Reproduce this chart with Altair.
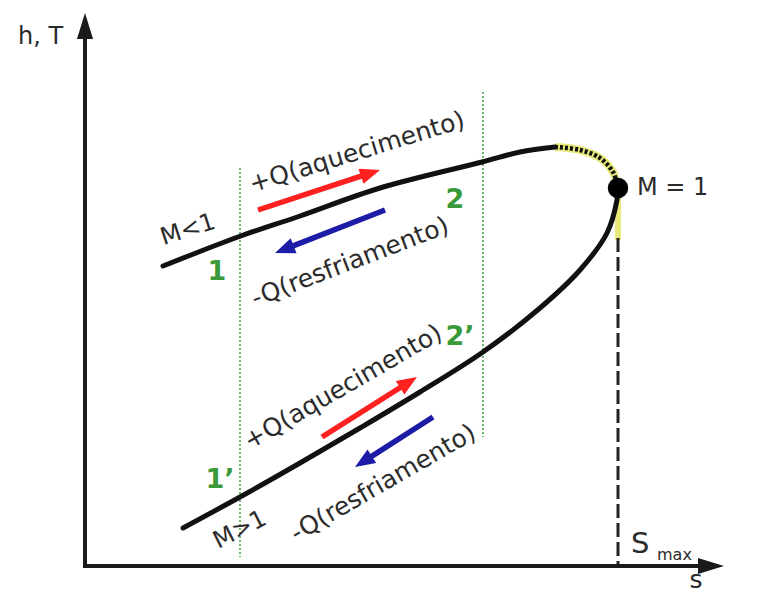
import math
import altair as alt
import pandas as pd

# ---- Rayleigh line in the h-s plane (diagram units) ----
upper_s = [163, 238, 300, 380, 482, 520, 555]
upper_h = [334, 363, 384, 412, 438, 448, 453]
nose_s = [555, 580, 600, 613, 618]
nose_h = [453, 450, 442, 428, 412]
lower_s = [618, 617, 607, 580, 540, 483, 420, 360, 300, 240, 183]
lower_h = [412, 400, 367, 330, 292, 248, 208, 172, 137, 103, 72]

sonic_point = {"s": 618, "h": 412}          # M = 1
s_max = 618
axis_origin = {"s": 85, "h": 34}
axis_end = {"s": 724, "h": 587}

# states 1,2 (subsonic) and 1',2' (supersonic) - vertical guides
guide_s = [240, 483]
guide_h1 = [432, 508]
guide_h2 = [43, 163]

# heat-transfer arrows: (s0, h0) -> (s1, h1)
arrow_s0 = [258, 385, 322, 433]
arrow_h0 = [390, 390, 163, 183]
arrow_s1 = [380, 275, 417, 355]
arrow_h1 = [430, 347, 223, 133]
arrow_col = ["#ff2020", "#1c1ca6", "#ff2020", "#1c1ca6"]

# rotated annotations
ann_text = ["+Q(aquecimento)", "-Q(resfriamento)", "+Q(aquecimento)", "-Q(resfriamento)", "M<1", "M>1"]
ann_s = [357, 350, 343, 383, 188, 240]
ann_h = [448, 338, 213, 117, 370, 70]
ann_rot = [343, 339, 330, 330, 342, 333]

state_text = ["1", "2", "1\u2019", "2\u2019"]
state_s = [217, 455, 220, 460]
state_h = [328, 400, 120, 263]

X = lambda f="s": alt.X(f"{f}:Q", scale=alt.Scale(domain=[8, 755], nice=False, zero=False), axis=None)
Y = lambda f="h": alt.Y(f"{f}:Q", scale=alt.Scale(domain=[5, 592], nice=False, zero=False), axis=None)

def path_df(ss, hh):
    return pd.DataFrame({"s": ss, "h": hh, "i": list(range(len(ss)))})

FONT = "DejaVu Sans"
TXT = "#2b2b2b"
GREEN = "#3a9a3a"

layers = []

# green dotted guides
gdf = pd.DataFrame({"s": guide_s, "h": guide_h1, "h2": guide_h2})
layers.append(alt.Chart(gdf).mark_rule(color="#46a846", strokeWidth=1.6, strokeDash=[2, 2]).encode(
    x=X(), y=Y(), y2="h2:Q"))

# yellow highlight near the sonic point
layers.append(alt.Chart(path_df(nose_s, nose_h)).mark_line(
    color="#e2e25a", strokeWidth=8, opacity=0.8, interpolate="catmull-rom").encode(
    x=X(), y=Y(), order="i:Q"))
ydf = pd.DataFrame({"s": [s_max], "h": [sonic_point["h"] - 8], "h2": [sonic_point["h"] - 52]})
layers.append(alt.Chart(ydf).mark_rule(color="#e2e25a", strokeWidth=6, opacity=0.8).encode(
    x=X(), y=Y(), y2="h2:Q"))

# S_max dashed line
ddf = pd.DataFrame({"s": [s_max], "h": [sonic_point["h"] - 50], "h2": [axis_origin["h"]]})
layers.append(alt.Chart(ddf).mark_rule(color="#222", strokeWidth=3, strokeDash=[14, 5]).encode(
    x=X(), y=Y(), y2="h2:Q"))

# Rayleigh line
for ss, hh in [(upper_s, upper_h), (lower_s, lower_h)]:
    layers.append(alt.Chart(path_df(ss, hh)).mark_line(
        color="#111", strokeWidth=5, interpolate="catmull-rom", strokeCap="round").encode(
        x=X(), y=Y(), order="i:Q"))
layers.append(alt.Chart(path_df(nose_s, nose_h)).mark_line(
    color="#111", strokeWidth=4.5, strokeDash=[3, 2], interpolate="catmull-rom").encode(
    x=X(), y=Y(), order="i:Q"))

# sonic point
layers.append(alt.Chart(pd.DataFrame([sonic_point])).mark_point(
    shape="circle", filled=True, color="#000", size=420, opacity=1).encode(x=X(), y=Y()))

# axes with arrowheads
HEAD = "M 1 0 L -1 -0.62 L -1 0.62 Z"
axdf = pd.DataFrame({
    "s": [axis_origin["s"], axis_origin["s"]],
    "h": [axis_origin["h"], axis_origin["h"]],
    "s2": [axis_end["s"] - 20, axis_origin["s"]],
    "h2": [axis_origin["h"], axis_end["h"] - 20],
})
layers.append(alt.Chart(axdf).mark_rule(color="#1a1a1a", strokeWidth=4, strokeCap="square").encode(
    x=X(), y=Y(), x2="s2:Q", y2="h2:Q"))
ahdf = pd.DataFrame({
    "s": [axis_end["s"] - 13, axis_origin["s"]],
    "h": [axis_origin["h"], axis_end["h"] - 13],
    "ang": [0, 270],
})
layers.append(alt.Chart(ahdf).mark_point(shape=HEAD, filled=True, color="#1a1a1a", size=676, opacity=1).encode(
    x=X(), y=Y(), angle=alt.Angle("ang:Q", scale=None)))

# heat arrows
L = 20.0
rows_r, rows_h = [], []
for s0, h0, s1, h1, c in zip(arrow_s0, arrow_h0, arrow_s1, arrow_h1, arrow_col):
    ds, dh = s1 - s0, h1 - h0
    n = math.hypot(ds, dh)
    us, uh = ds / n, dh / n
    ang = math.degrees(math.atan2(-dh, ds)) % 360
    rows_r.append({"s": s0, "h": h0, "s2": s1 - us * L * 0.8, "h2": h1 - uh * L * 0.8, "c": c})
    rows_h.append({"s": s1 - us * L / 2, "h": h1 - uh * L / 2, "ang": ang, "c": c})
layers.append(alt.Chart(pd.DataFrame(rows_r)).mark_rule(strokeWidth=5.5).encode(
    x=X(), y=Y(), x2="s2:Q", y2="h2:Q", color=alt.Color("c:N", scale=None)))
layers.append(alt.Chart(pd.DataFrame(rows_h)).mark_point(
    shape="M 1 0 L -1 -0.8 L -1 0.8 Z", filled=True, size=L * L, opacity=1).encode(
    x=X(), y=Y(), angle=alt.Angle("ang:Q", scale=None), color=alt.Color("c:N", scale=None)))

# rotated labels
adf = pd.DataFrame({"t": ann_text, "s": ann_s, "h": ann_h, "ang": ann_rot})
adf["size"] = [25, 25, 25, 25, 24, 24]
layers.append(alt.Chart(adf).mark_text(font=FONT, color=TXT, align="center", baseline="middle").encode(
    x=X(), y=Y(), text="t:N", angle=alt.Angle("ang:Q", scale=None), size=alt.Size("size:Q", scale=None)))

# state numbers
sdf = pd.DataFrame({"t": state_text, "s": state_s, "h": state_h})
layers.append(alt.Chart(sdf).mark_text(font=FONT, color=GREEN, fontWeight="bold", fontSize=27,
                                        align="center", baseline="middle").encode(
    x=X(), y=Y(), text="t:N"))

# axis titles and other labels
lab = pd.DataFrame({
    "t": ["h, T", "s", "M = 1", "S", "max"],
    "s": [18, 696, 637, 631, 657],
    "h": [556, 12, 405, 47, 40],
    "size": [24, 25, 24, 29, 16],
    "al": ["left", "center", "left", "left", "left"],
})
for al in ["left", "center"]:
    layers.append(alt.Chart(lab[lab.al == al]).mark_text(font=FONT, color=TXT, align=al, baseline="alphabetic").encode(
        x=X(), y=Y(), text="t:N", size=alt.Size("size:Q", scale=None)))

chart = alt.layer(*layers).properties(
    width=747, height=587, padding=0, autosize=alt.AutoSizeParams(type="none"), background="white"
).configure_view(stroke=None)

chart.save("out.html", embed_options={"renderer": "svg", "actions": False})
